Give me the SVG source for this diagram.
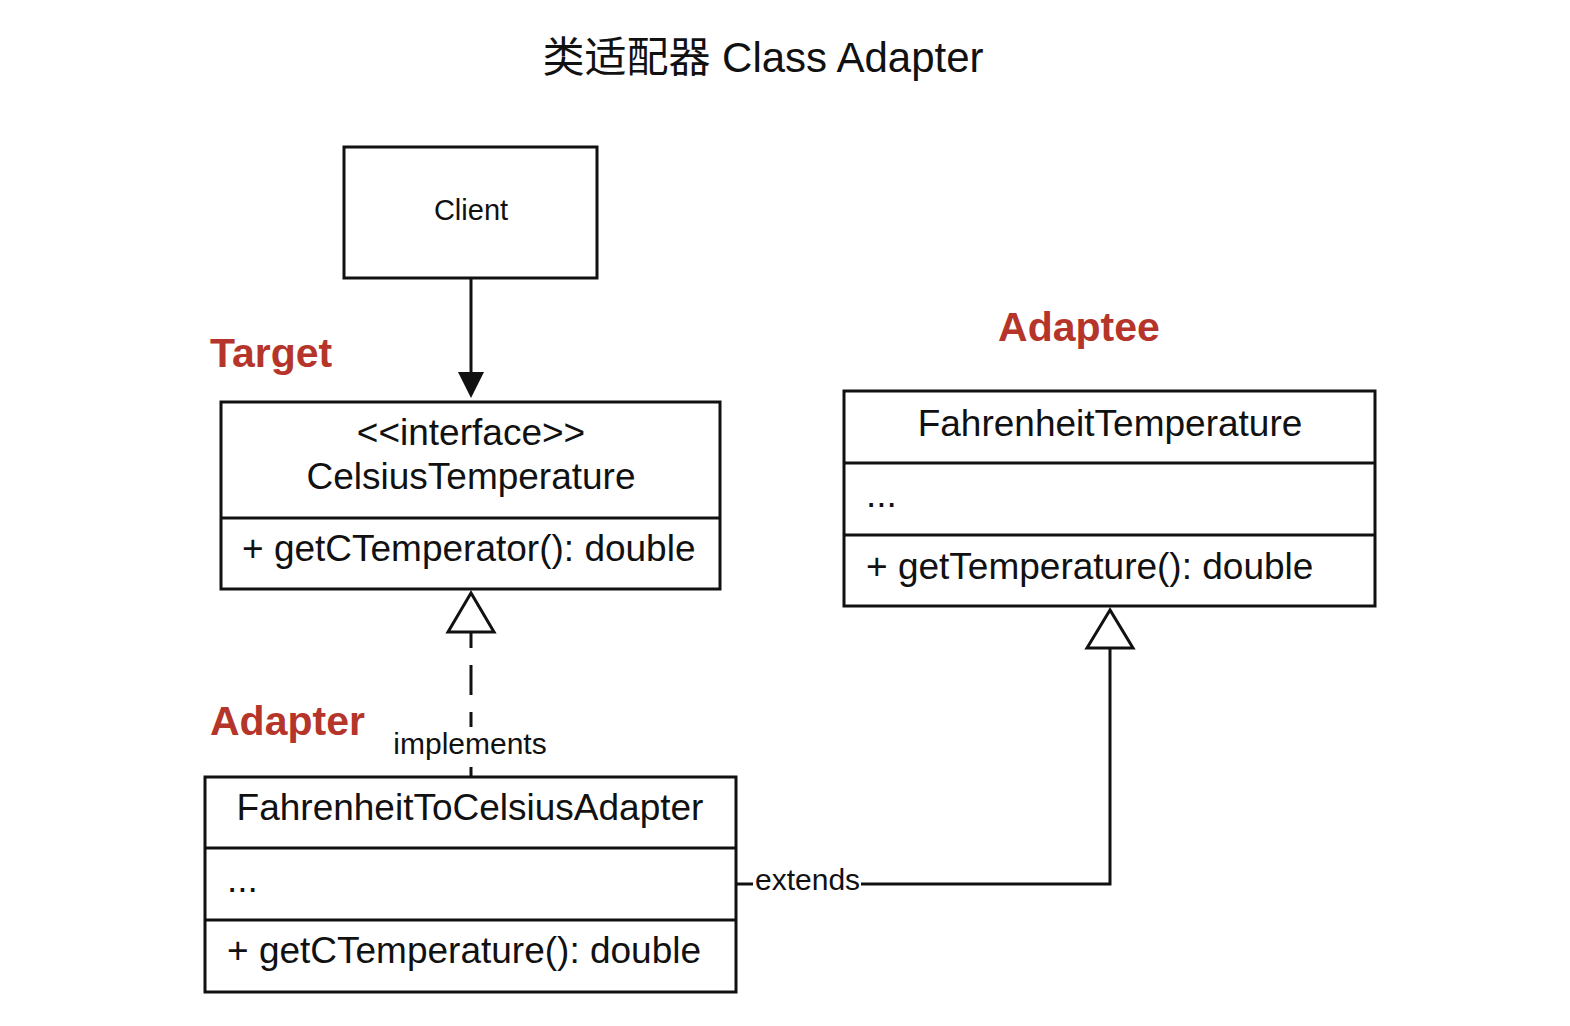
<svg xmlns="http://www.w3.org/2000/svg" width="1570" height="1026" viewBox="0 0 1570 1026">
<style>
text{font-family:"Liberation Sans",Arial,"Noto Sans CJK SC",sans-serif;fill:#111}
.box{fill:#fff;stroke:#111;stroke-width:3}
.div{stroke:#111;stroke-width:3}
.t36{font-size:37px}
.mid{text-anchor:middle}
.lbl{font-size:41px;font-weight:bold;fill:#b5352a}
.small{font-size:30px}
.line{fill:none;stroke:#111;stroke-width:3}
</style>
<rect width="1570" height="1026" fill="#fff"/>
<text x="763" y="72" class="mid" style="font-size:42px;font-family:'Liberation Sans','Noto Sans CJK SC',sans-serif">类适配器 Class Adapter</text>

<text x="210" y="367" class="lbl">Target</text>
<text x="1079" y="341" class="lbl mid">Adaptee</text>
<text x="210" y="735" class="lbl">Adapter</text>

<g id="connectors">
<path d="M471,278 L471,384" class="line"/>
<path d="M458,372 L471,398 L484,372 Z" fill="#111"/>
<path d="M471,632 L471,648 M471,665 L471,695 M471,712 L471,727 M471,767 L471,777" class="line"/>
<path d="M471,593 L448,632 L494,632 Z" fill="#fff" stroke="#111" stroke-width="3"/>
<path d="M736,884 L1110,884 L1110,648" class="line"/>
<path d="M1110,610 L1087,648 L1133,648 Z" fill="#fff" stroke="#111" stroke-width="3"/>
<text x="470" y="754" class="small mid">implements</text>
<rect x="753" y="866" width="108" height="30" fill="#fff"/>
<text x="755" y="890" class="small">extends</text>
</g>

<g id="client">
<rect x="344" y="147" width="253" height="131" class="box"/>
<text x="471" y="220" class="mid" style="font-size:29px">Client</text>
</g>

<g id="celsius">
<rect x="221" y="402" width="499" height="187" class="box"/>
<line x1="221" y1="518" x2="720" y2="518" class="div"/>
<text x="471" y="445" class="t36 mid">&lt;&lt;interface&gt;&gt;</text>
<text x="471" y="489" class="t36 mid">CelsiusTemperature</text>
<text x="242" y="561" class="t36">+ getCTemperator(): double</text>
</g>

<g id="fahrenheit">
<rect x="844" y="391" width="531" height="215" class="box"/>
<line x1="844" y1="463" x2="1375" y2="463" class="div"/>
<line x1="844" y1="535" x2="1375" y2="535" class="div"/>
<text x="1110" y="436" class="t36 mid">FahrenheitTemperature</text>
<text x="866" y="507" class="t36">...</text>
<text x="866" y="579" class="t36">+ getTemperature(): double</text>
</g>

<g id="adapter">
<rect x="205" y="777" width="531" height="215" class="box"/>
<line x1="205" y1="848" x2="736" y2="848" class="div"/>
<line x1="205" y1="920" x2="736" y2="920" class="div"/>
<text x="470" y="820" class="t36 mid">FahrenheitToCelsiusAdapter</text>
<text x="227" y="892" class="t36">...</text>
<text x="227" y="963" class="t36">+ getCTemperature(): double</text>
</g>
</svg>
